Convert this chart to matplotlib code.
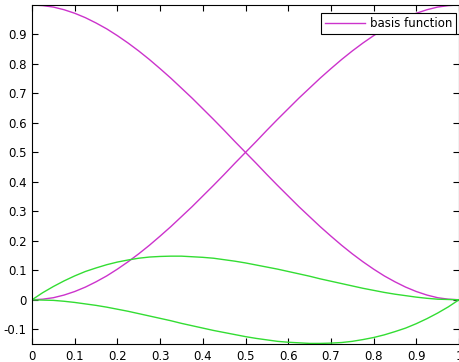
import matplotlib
matplotlib.use("Agg")
import matplotlib.pyplot as plt

t = [0.0, 0.025, 0.05, 0.075, 0.1, 0.125, 0.15, 0.175, 0.2, 0.225,
     0.25, 0.275, 0.3, 0.325, 0.35, 0.375, 0.4, 0.425, 0.45, 0.475,
     0.5, 0.525, 0.55, 0.575, 0.6, 0.625, 0.65, 0.675, 0.7, 0.725,
     0.75, 0.775, 0.8, 0.825, 0.85, 0.875, 0.9, 0.925, 0.95, 0.975, 1.0]
h00 = [1.0, 0.998, 0.993, 0.984, 0.972, 0.957, 0.939, 0.919, 0.896, 0.871,
       0.844, 0.815, 0.784, 0.752, 0.718, 0.684, 0.648, 0.612, 0.575, 0.537,
       0.5, 0.463, 0.425, 0.388, 0.352, 0.316, 0.282, 0.248, 0.216, 0.185,
       0.156, 0.129, 0.104, 0.081, 0.061, 0.043, 0.028, 0.016, 0.007, 0.002, 0.0]
h01 = [0.0, 0.002, 0.007, 0.016, 0.028, 0.043, 0.061, 0.081, 0.104, 0.129,
       0.156, 0.185, 0.216, 0.248, 0.282, 0.316, 0.352, 0.388, 0.425, 0.463,
       0.5, 0.537, 0.575, 0.612, 0.648, 0.684, 0.718, 0.752, 0.784, 0.815,
       0.844, 0.871, 0.896, 0.919, 0.939, 0.957, 0.972, 0.984, 0.993, 0.998, 1.0]
h10 = [0.0, 0.024, 0.045, 0.064, 0.081, 0.096, 0.108, 0.119, 0.128, 0.135,
       0.141, 0.145, 0.147, 0.148, 0.148, 0.146, 0.144, 0.141, 0.136, 0.131,
       0.125, 0.118, 0.111, 0.104, 0.096, 0.088, 0.080, 0.071, 0.063, 0.055,
       0.047, 0.039, 0.032, 0.025, 0.019, 0.014, 0.009, 0.005, 0.002, 0.001, 0.0]
h11 = [0.0, -0.001, -0.002, -0.005, -0.009, -0.014, -0.019, -0.025, -0.032, -0.039,
       -0.047, -0.055, -0.063, -0.071, -0.080, -0.088, -0.096, -0.104, -0.111, -0.118,
       -0.125, -0.131, -0.136, -0.141, -0.144, -0.146, -0.148, -0.148, -0.147, -0.145,
       -0.141, -0.135, -0.128, -0.119, -0.108, -0.096, -0.081, -0.064, -0.045, -0.024, 0.0]

xticks = [0, 0.1, 0.2, 0.3, 0.4, 0.5, 0.6, 0.7, 0.8, 0.9, 1]
xticklabels = ['0', '0.1', '0.2', '0.3', '0.4', '0.5', '0.6', '0.7', '0.8', '0.9', '1']
yticks = [-0.1, 0, 0.1, 0.2, 0.3, 0.4, 0.5, 0.6, 0.7, 0.8, 0.9]
yticklabels = ['-0.1', '0', '0.1', '0.2', '0.3', '0.4', '0.5', '0.6', '0.7', '0.8', '0.9']

plt.rcParams['font.family'] = ['DejaVu Sans']

fig = plt.figure(figsize=(4.59, 3.62), dpi=100)
ax = fig.add_axes([32/459, 18/362, 427/459, 339/362])

mag = '#cc33cc'
grn = '#33dd33'
ax.plot(t, h00, color=mag, lw=1.0, label='basis function')
ax.plot(t, h01, color=mag, lw=1.0)
ax.plot(t, h10, color=grn, lw=1.0)
ax.plot(t, h11, color=grn, lw=1.0)

ax.set_xlim(0, 1)
ax.set_ylim(-0.15, 1)
ax.set_xticks(xticks)
ax.set_xticklabels(xticklabels)
ax.set_yticks(yticks)
ax.set_yticklabels(yticklabels)
ax.tick_params(direction='in', top=True, right=True, length=4, labelsize=8.5, pad=4)
for s in ax.spines.values():
    s.set_linewidth(0.8)

leg = ax.legend(loc='upper right', fontsize=8.5, fancybox=False, framealpha=1,
                edgecolor='black', handlelength=3.4, handletextpad=0.4,
                borderpad=0.35, borderaxespad=0,
                bbox_to_anchor=(0.993, 0.976))
leg.get_frame().set_linewidth(0.8)

fig.savefig("out.png", dpi=100)
